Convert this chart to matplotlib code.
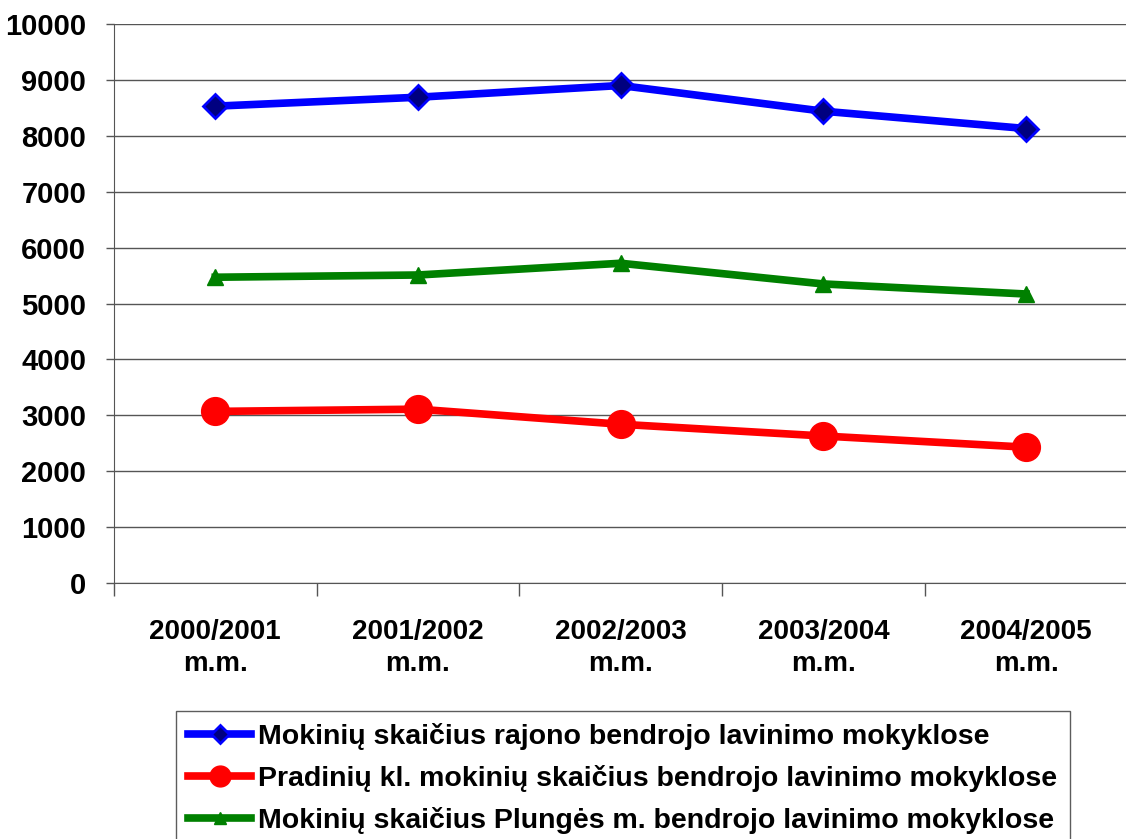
import matplotlib
matplotlib.use("Agg")
import matplotlib.pyplot as plt
from matplotlib.ticker import FixedLocator, NullFormatter

plt.rcParams["font.family"] = ["Liberation Sans", "DejaVu Sans"]
plt.rcParams["font.weight"] = "bold"

# Data
years = ["2000/2001\nm.m.", "2001/2002\nm.m.", "2002/2003\nm.m.",
         "2003/2004\nm.m.", "2004/2005\nm.m."]
rajono = [8530, 8690, 8900, 8440, 8130]
pradiniu = [3070, 3110, 2840, 2630, 2430]
plunges = [5470, 5510, 5720, 5350, 5170]

labels = [
    "Mokinių skaičius rajono bendrojo lavinimo mokyklose",
    "Pradinių kl. mokinių skaičius bendrojo lavinimo mokyklose",
    "Mokinių skaičius Plungės m. bendrojo lavinimo mokyklose",
]

fig = plt.figure(figsize=(11.26, 8.39), dpi=100)
ax = fig.add_axes([0.1012, 0.3051, 0.9, 0.6663])

x = range(len(years))
ax.plot(x, rajono, color="#0000FF", lw=5.5, marker="D", ms=12,
        mfc="#000080", mec="#0000FF", mew=2, label=labels[0], zorder=3)
ax.plot(x, pradiniu, color="#FF0000", lw=5.5, marker="o", ms=20,
        mfc="#FF0000", mec="#FF0000", label=labels[1], zorder=3)
ax.plot(x, plunges, color="#008000", lw=5.5, marker="^", ms=12,
        mfc="#008000", mec="#008000", label=labels[2], zorder=3)

ax.set_xlim(-0.5, len(years) - 0.5)
ax.set_ylim(0, 10000)
ax.set_yticks(range(0, 10001, 1000))
ax.grid(axis="y", color="#555555", lw=1)
ax.set_axisbelow(True)

# category labels centred, ticks on the category boundaries
ax.set_xticks(list(x))
ax.set_xticklabels(years, fontsize=20, fontweight="bold", linespacing=1.3)
ax.tick_params(axis="x", which="major", length=0, pad=26)
ax.xaxis.set_minor_locator(FixedLocator([i - 0.5 for i in range(len(years) + 1)]))
ax.xaxis.set_minor_formatter(NullFormatter())
ax.tick_params(axis="x", which="minor", length=9, width=1, color="#555555")
ax.tick_params(axis="y", length=6, width=1, color="#555555", pad=14,
               labelsize=21)
for t in ax.get_yticklabels():
    t.set_fontweight("bold")

ax.spines["top"].set_visible(False)
ax.spines["right"].set_visible(False)
ax.spines["left"].set_color("#555555")
ax.spines["bottom"].set_color("#555555")

leg = fig.legend(loc="upper left", bbox_to_anchor=(0.156, 0.153),
                 frameon=True, fancybox=False, edgecolor="#333333",
                 prop={"size": 20.5, "weight": "bold"}, handlelength=2.2,
                 handletextpad=0.25, labelspacing=0.52, borderaxespad=0,
                 borderpad=0.44, markerscale=0.75)
leg.get_frame().set_linewidth(1)

fig.savefig("out.png", dpi=100)
plt.close(fig)
